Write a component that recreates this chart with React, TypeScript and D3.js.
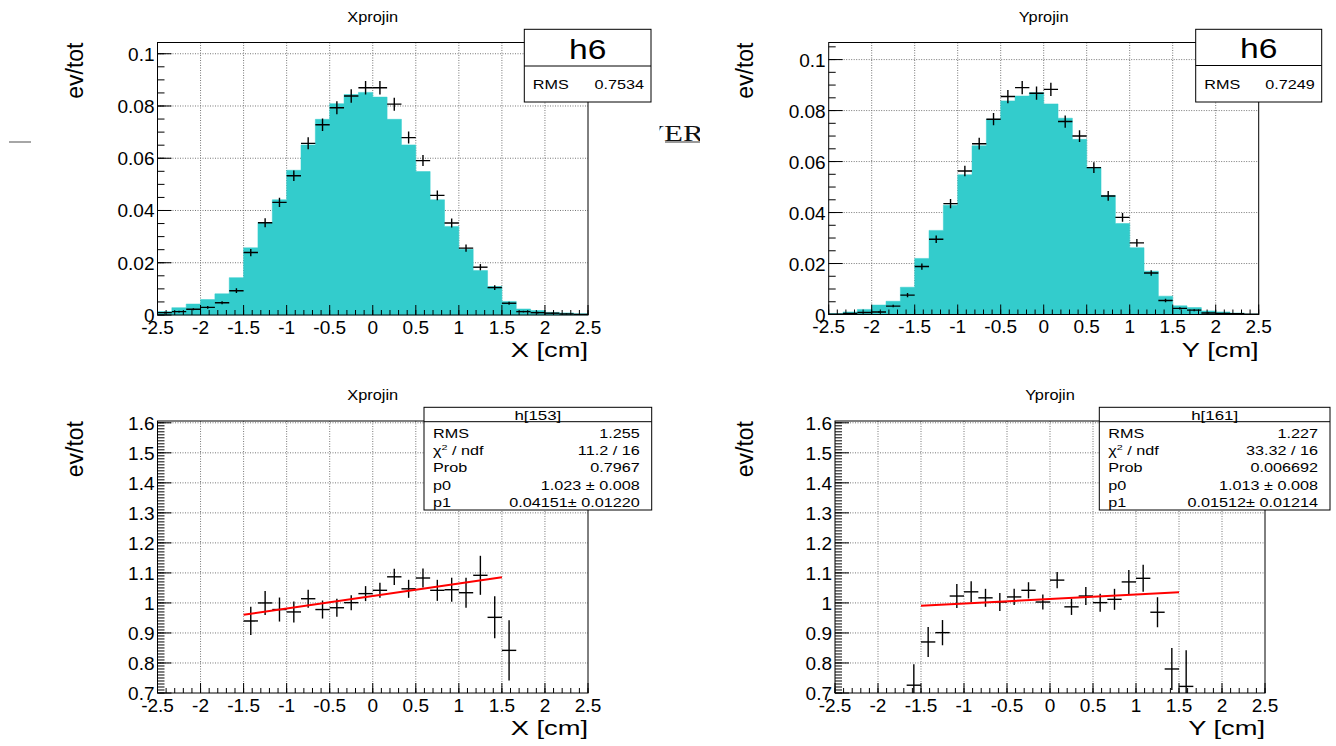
import React from "react";
import * as d3 from "d3";

const FONT = "'Liberation Sans', Arial, Helvetica, sans-serif";

// ---- binning / axes ----
const BIN_LO = -2.5;
const BIN_HI = 2.5;
const N_BINS = 30;
const xTickValues = [-2.5, -2, -1.5, -1, -0.5, 0, 0.5, 1, 1.5, 2, 2.5];
const yTicksHist = [0, 0.02, 0.04, 0.06, 0.08, 0.1];
const yTicksRatio = [0.7, 0.8, 0.9, 1, 1.1, 1.2, 1.3, 1.4, 1.5, 1.6];

// ---- top-left: X projection ----
const xprojFill = [0.0013, 0.0028, 0.0042, 0.0059, 0.0081, 0.0143, 0.0257, 0.0354, 0.0441, 0.0554, 0.0651, 0.0749, 0.0809, 0.0844, 0.0852, 0.0834, 0.0749, 0.0651, 0.0549, 0.0441, 0.0339, 0.0252, 0.017, 0.0109, 0.0052, 0.0023, 0.0017, 0.001, 0.0008, 0.0005];
const xprojPts = [0.0009, 0.0013, 0.0022, 0.0029, 0.0047, 0.0093, 0.0239, 0.0353, 0.0431, 0.0533, 0.0657, 0.0728, 0.0793, 0.0838, 0.087, 0.087, 0.0807, 0.0679, 0.0591, 0.0458, 0.0352, 0.0256, 0.0183, 0.0105, 0.0045, 0.0013, 0.0009, 0.0007, 0.0004, 0.0002];
const xprojErr = [0.0003, 0.0003, 0.0004, 0.0005, 0.0006, 0.0009, 0.0014, 0.0017, 0.0018, 0.002, 0.0023, 0.0024, 0.0025, 0.0026, 0.0026, 0.0026, 0.0025, 0.0023, 0.0021, 0.0019, 0.0017, 0.0014, 0.0012, 0.0009, 0.0006, 0.0003, 0.0003, 0.0002, 0.0002, 0.0001];

// ---- top-right: Y projection ----
const yprojFill = [0.0004, 0.001, 0.002, 0.0037, 0.0052, 0.0107, 0.022, 0.033, 0.0429, 0.0548, 0.0662, 0.0766, 0.0838, 0.0857, 0.087, 0.0826, 0.077, 0.0687, 0.0577, 0.0467, 0.0357, 0.0262, 0.017, 0.0072, 0.0034, 0.0027, 0.0014, 0.001, 0.0006, 0.0002];
const yprojPts = [0.0001, 0.0004, 0.0008, 0.001, 0.0033, 0.0076, 0.0188, 0.0295, 0.0435, 0.0563, 0.067, 0.0766, 0.0855, 0.089, 0.0868, 0.0883, 0.0757, 0.07, 0.0576, 0.0465, 0.0381, 0.0281, 0.0163, 0.0055, 0.0024, 0.0017, 0.0006, 0.0004, 0.0003, 0.0001];
const yprojErr = [0.0001, 0.0002, 0.0002, 0.0003, 0.0005, 0.0008, 0.0012, 0.0015, 0.0018, 0.0021, 0.0023, 0.0024, 0.0026, 0.0026, 0.0026, 0.0026, 0.0024, 0.0023, 0.0021, 0.0019, 0.0017, 0.0015, 0.0011, 0.0007, 0.0004, 0.0004, 0.0002, 0.0002, 0.0002, 0.0001];

// ---- bottom-left: X ratio ----
const ratioXStartBin = 6;
const ratioXVals = [0.94, 1.0, 0.978, 0.97, 1.014, 0.978, 0.984, 1.001, 1.031, 1.042, 1.087, 1.047, 1.083, 1.042, 1.044, 1.034, 1.092, 0.952, 0.842];
const ratioXErr = [0.047, 0.04, 0.04, 0.035, 0.03, 0.03, 0.03, 0.025, 0.025, 0.025, 0.027, 0.03, 0.032, 0.035, 0.04, 0.05, 0.065, 0.07, 0.1];
const fitX = { p0: 1.023, p1: 0.04151, from: -1.5, to: 1.5 };

// ---- bottom-right: Y ratio ----
const ratioYStartBin = 5;
const ratioYVals = [0.726, 0.87, 0.901, 1.023, 1.037, 1.017, 1.003, 1.02, 1.042, 1.003, 1.076, 0.987, 1.023, 1.001, 1.012, 1.07, 1.082, 0.969, 0.78, 0.722];
const ratioYErr = [0.07, 0.05, 0.042, 0.04, 0.035, 0.03, 0.03, 0.027, 0.027, 0.025, 0.027, 0.027, 0.03, 0.03, 0.035, 0.04, 0.045, 0.05, 0.07, 0.12];
const fitY = { p0: 1.013, p1: 0.01512, from: -1.5, to: 1.5 };

// ---- stat boxes ----
const statTL = { name: "h6", rms: "0.7534" };
const statTR = { name: "h6", rms: "0.7249" };
const statBL = { name: "h[153]", rows: [["RMS", "1.255"], ["chi", "11.2 / 16"], ["Prob", "0.7967"], ["p0", "1.023 \u00b1 0.008"], ["p1", "0.04151\u00b1 0.01220"]] };
const statBR = { name: "h[161]", rows: [["RMS", "1.227"], ["chi", "33.32 / 16"], ["Prob", "0.006692"], ["p0", "1.013 \u00b1 0.008"], ["p1", "0.01512\u00b1 0.01214"]] };

function SText({ x, y, sx = 1, anchor = "start", size, children, family = FONT, fill = "#000" }: any) {
  return (
    <text transform={`translate(${x},${y}) scale(${sx},1)`} textAnchor={anchor} fontSize={size} fontFamily={family} fill={fill}>
      {children}
    </text>
  );
}

function fmt(v: number) {
  return String(+v.toFixed(3));
}

function Panel({ id, xr, yr, ydom, yTicks, yMinor, title, xTitle, yLabelX, fill, pts, errs, startBin, fit }: any) {
  const x = d3.scaleLinear().domain([BIN_LO, BIN_HI]).range(xr);
  const y = d3.scaleLinear().domain(ydom).range(yr);
  const binW = (BIN_HI - BIN_LO) / N_BINS;
  const lo = (i: number) => BIN_LO + i * binW;
  const [L, R] = xr;
  const [B, T] = yr;

  const xMinor = d3.range(BIN_LO, BIN_HI + 1e-6, 0.1);
  const yMinorTicks = d3.range(ydom[0], ydom[1] + 1e-9, yMinor);

  let fillPath: string | null = null;
  if (fill) {
    const stepPts: [number, number][] = [];
    fill.forEach((v: number, i: number) => {
      stepPts.push([lo(i), v]);
      stepPts.push([lo(i + 1), v]);
    });
    const area = d3.area<[number, number]>().x((d) => x(d[0])).y0(y(ydom[0])).y1((d) => y(d[1]));
    fillPath = area(stepPts);
  }

  const fitLine = fit
    ? d3.line<number>().x((d) => x(d)).y((d) => y(fit.p0 + fit.p1 * d))([fit.from, fit.to])
    : null;

  const clipId = `clip-${id}`;
  return (
    <g>
      <defs>
        <clipPath id={clipId}>
          <rect x={L} y={T} width={R - L} height={B - T} />
        </clipPath>
      </defs>
      {/* grid */}
      <g stroke="#777" strokeWidth={1} strokeDasharray="1,1.5">
        {xTickValues.slice(1, -1).map((v) => (
          <line key={"gx" + v} x1={x(v)} x2={x(v)} y1={T} y2={B} />
        ))}
        {yTicks.slice(1).map((v: number) => (
          <line key={"gy" + v} x1={L} x2={R} y1={y(v)} y2={y(v)} />
        ))}
      </g>
      {fillPath && <path d={fillPath} fill="#33cccc" stroke="#33cccc" strokeWidth={0.5} />}
      {/* points */}
      <g clipPath={`url(#${clipId})`} stroke="#000" strokeWidth={1.4}>
        {pts.map((v: number, k: number) => {
          const i = startBin + k;
          const e = errs[k];
          const cx = x(lo(i) + binW / 2);
          return (
            <g key={"p" + k}>
              <line x1={x(lo(i))} x2={x(lo(i + 1))} y1={y(v)} y2={y(v)} />
              <line x1={cx} x2={cx} y1={y(v - e)} y2={y(v + e)} />
            </g>
          );
        })}
      </g>
      {fitLine && <path d={fitLine} stroke="#ff0000" strokeWidth={2} fill="none" clipPath={`url(#${clipId})`} />}
      {/* frame */}
      <rect x={L} y={T} width={R - L} height={B - T} fill="none" stroke="#000" strokeWidth={1} />
      {/* x ticks */}
      <g stroke="#000" strokeWidth={1}>
        {xMinor.map((v, k) => (
          <line key={"xm" + k} x1={x(v)} x2={x(v)} y1={B} y2={B - 5} />
        ))}
        {xTickValues.map((v) => (
          <line key={"xM" + v} x1={x(v)} x2={x(v)} y1={B} y2={B - 10} />
        ))}
        {yMinorTicks.map((v, k) => (
          <line key={"ym" + k} x1={L} x2={L + 7} y1={y(v)} y2={y(v)} />
        ))}
        {yTicks.map((v: number) => (
          <line key={"yM" + v} x1={L} x2={L + 14} y1={y(v)} y2={y(v)} />
        ))}
      </g>
      {/* tick labels */}
      <g fontFamily={FONT} fontSize={19} fill="#000">
        {xTickValues.map((v) => (
          <text key={"xl" + v} x={x(v)} y={B + 18.5} textAnchor="middle">
            {String(v)}
          </text>
        ))}
        {yTicks.map((v: number) => (
          <text key={"yl" + v} x={L - 3} y={y(v) + 7} textAnchor="end">
            {fmt(v)}
          </text>
        ))}
      </g>
      {/* titles */}
      <SText x={(L + R) / 2} y={T - 21} sx={1.17} anchor="middle" size={14}>
        {title}
      </SText>
      <SText x={R} y={B + 42} sx={1.3} anchor="end" size={21}>
        {xTitle}
      </SText>
      <text transform={`translate(${yLabelX},${T}) rotate(-90)`} textAnchor="end" fontFamily={FONT} fontSize={23}>
        ev/tot
      </text>
    </g>
  );
}

function SmallStat({ x0, x1, y0, y1, div, stat }: any) {
  return (
    <g>
      <rect x={x0} y={y0} width={x1 - x0} height={y1 - y0} fill="#fff" stroke="#000" strokeWidth={1} />
      <line x1={x0} x2={x1} y1={div} y2={div} stroke="#000" strokeWidth={1} />
      <SText x={(x0 + x1) / 2} y={div - 7.5} sx={1.2} anchor="middle" size={28}>
        {stat.name}
      </SText>
      <SText x={x0 + 8.5} y={y1 - 12.7} sx={1.35} size={12}>
        RMS
      </SText>
      <SText x={x1 - 7} y={y1 - 12.7} sx={1.35} anchor="end" size={12}>
        {stat.rms}
      </SText>
    </g>
  );
}

function FitStat({ x0, x1, y0, y1, div, stat }: any) {
  return (
    <g>
      <rect x={x0} y={y0} width={x1 - x0} height={y1 - y0} fill="#fff" stroke="#000" strokeWidth={1} />
      <line x1={x0} x2={x1} y1={div} y2={div} stroke="#000" strokeWidth={1} />
      <SText x={(x0 + x1) / 2} y={div - 2} sx={1.35} anchor="middle" size={12.5}>
        {stat.name}
      </SText>
      {stat.rows.map((r: string[], k: number) => {
        const yy = div + 16 + k * 17.3;
        return (
          <g key={k}>
            <SText x={x0 + 9} y={yy} sx={1.35} size={12}>
              {r[0] === "chi" ? (
                <>
                  <tspan>χ</tspan>
                  <tspan dy={-5} fontSize={8}>2</tspan>
                  <tspan dy={5}> / ndf</tspan>
                </>
              ) : (
                r[0]
              )}
            </SText>
            <SText x={x1 - 12} y={yy} sx={1.35} anchor="end" size={12}>
              {r[1]}
            </SText>
          </g>
        );
      })}
    </g>
  );
}

export default function App() {
  return (
    <svg width={1336} height={746} style={{ position: "absolute", left: 0, top: 0, background: "#fff" }}>
      <rect x={0} y={0} width={1336} height={746} fill="#fff" />
      {/* stray canvas fragments */}
      <line x1={9} x2={31} y1={142} y2={142} stroke="#888" strokeWidth={1.5} />
      <defs>
        <clipPath id="clip-ver">
          <rect x={659.5} y={110} width={40.5} height={40} />
        </clipPath>
      </defs>
      <g clipPath="url(#clip-ver)">
        <SText x={641.6} y={141} sx={1.35} size={23} family="'Liberation Serif', 'Times New Roman', serif" fill="#111">
          VER
        </SText>
        <line x1={665} x2={700} y1={142} y2={142} stroke="#777" strokeWidth={1.5} />
      </g>

      <Panel id="tl" xr={[157.5, 588]} yr={[315, 42.5]} ydom={[0, 0.1043]} yTicks={yTicksHist} yMinor={0.005}
        title="Xprojin" xTitle="X [cm]" yLabelX={83} fill={xprojFill} pts={xprojPts} errs={xprojErr} startBin={0} />
      <Panel id="tr" xr={[828.7, 1258.7]} yr={[314.5, 42.5]} ydom={[0, 0.1067]} yTicks={yTicksHist} yMinor={0.005}
        title="Yprojin" xTitle="Y [cm]" yLabelX={753} fill={yprojFill} pts={yprojPts} errs={yprojErr} startBin={0} />
      <Panel id="bl" xr={[157.5, 588]} yr={[693, 421]} ydom={[0.7, 1.606]} yTicks={yTicksRatio} yMinor={0.01}
        title="Xprojin" xTitle="X [cm]" yLabelX={83} pts={ratioXVals} errs={ratioXErr} startBin={ratioXStartBin} fit={fitX} />
      <Panel id="br" xr={[835, 1265]} yr={[693, 421]} ydom={[0.7, 1.606]} yTicks={yTicksRatio} yMinor={0.01}
        title="Yprojin" xTitle="Y [cm]" yLabelX={753} pts={ratioYVals} errs={ratioYErr} startBin={ratioYStartBin} fit={fitY} />

      <SmallStat x0={524.3} x1={651} y0={29.3} y1={102} div={66} stat={statTL} />
      <SmallStat x0={1195.7} x1={1321.7} y0={29.3} y1={102} div={65.5} stat={statTR} />
      <FitStat x0={424} x1={651.7} y0={407.3} y1={510} div={421.7} stat={statBL} />
      <FitStat x0={1099.3} x1={1330} y0={407.3} y1={510} div={421.7} stat={statBR} />
    </svg>
  );
}
